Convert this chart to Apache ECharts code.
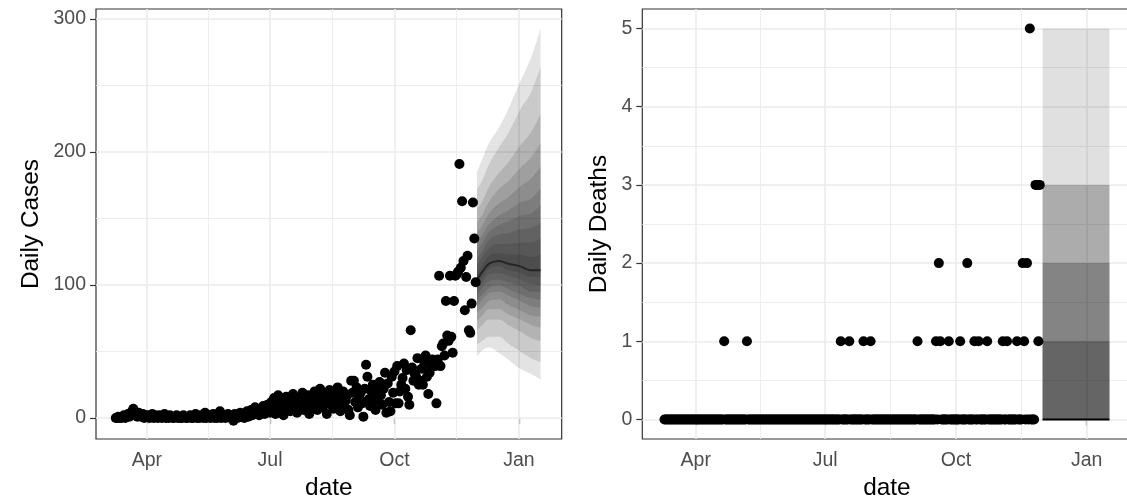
<!DOCTYPE html>
<html lang="en">
<head>
<meta charset="UTF-8">
<title>Daily cases and deaths</title>
<script src="https://cdn.jsdelivr.net/npm/echarts@6/dist/echarts.min.js"></script>
<style>html,body{margin:0;padding:0;background:#fff}#main{width:1127px;height:499px}</style>
</head>
<body>
<div id="main"></div>
<script>
// day numbers count from 2020-01-01 (= day 0)
const casesStartDay = 68; // Mar 9
const casesMar = [0,0,1,0,0,1,2,0,1,3,1,2,5,7,2,3,1,4,2,1,3,0,2];
const casesApr = [1,2,0,1,3,0,2,1,0,2,1,0,1,3,0,1,0,2,1,0,0,1,2,0,1,0,0,2,1,0];
const casesMay = [0,1,2,0,0,1,3,0,1,0,2,1,0,4,0,1,2,0,1,3,0,1,0,2,5,0,1,2,0,1,3];
const casesJun = [2,0,1,-2,3,1,0,2,4,1,3,0,2,5,1,3,6,2,4,8,3,5,2,7,4,9,3,6,10,5];
const casesJul = [4,12,8,15,3,10,17,6,11,9,2,14,16,7,12,5,13,18,9,11,4,15,8,14,19,6,10,13,17,3,12];
const casesAug = [9,15,20,11,6,14,22,17,8,12,18,3,13,21,10,16,7,19,14,23,11,5,15,20,9,13,17,6,2,28,19];
const casesSep = [28,12,23,8,15,19,11,1,22,40,31,14,9,20,25,18,6,13,21,27,17,10,22,34,4,26,12,5,31,19];
const casesOct = [35,11,39,11,20,25,30,41,22,36,16,10,66,38,28,33,31,45,25,28,37,25,42,47,31,18,34,38,44,40,39];
const casesNov = [11,44,107,39,54,56,47,88,62,58,107,61,49,88,107,108,110,191,113,163,118,81,106,122,66,64,86,162,135,102];

const deathsStartDay = 69; // Mar 10
const deathsMar = [0,0,0,0,0,0,0,0,0,0,0,0,0,0,0,0,0,0,0,0,0,0];
const deathsApr = [0,0,0,0,0,0,0,0,0,0,0,0,0,0,0,0,0,0,0,0,1,0,0,0,0,0,0,0,0,0];
const deathsMay = [0,0,0,0,0,0,1,0,0,0,0,0,0,0,0,0,0,0,0,0,0,0,0,0,0,0,0,0,0,0,0];
const deathsJun = [0,0,0,0,0,0,0,0,0,0,0,0,0,0,0,0,0,0,0,0,0,0,0,0,0,0,0,0,0,0];
const deathsJul = [0,0,0,0,0,0,0,0,0,0,0,1,0,0,0,0,0,1,0,0,0,0,0,0,0,0,0,1,0,0,0];
const deathsAug = [0,1,0,0,0,0,0,0,0,0,0,0,0,0,0,0,0,0,0,0,0,0,0,0,0,0,0,0,0,0,0];
const deathsSep = [0,0,0,1,0,0,0,0,0,0,0,0,0,0,0,0,1,0,2,1,0,0,0,0,0,1,0,0,0,0];
const deathsOct = [0,0,0,1,0,0,0,0,2,0,0,0,0,1,0,0,1,0,0,0,0,0,1,0,0,0,0,0,0,0,0];
const deathsNov = [0,0,1,0,0,1,0,0,0,0,0,0,1,0,0,0,2,1,0,2,0,5,0,0,0,3,3,1,3];

// forecast fan for cases (outer band first)
const fanDays = [335,339,344,351,358,367,375,382];
const fanMedian = [104,110,116,118,116,114,111,111];
const fanUpper = [
  [185,195,207,218,232,253,271,293],
  [172,179,191,203,214,232,245,264],
  [157,163,174,184,192,205,215,229],
  [147,153,163,172,178,188,196,207],
  [139,145,154,161,166,174,180,189],
  [132,138,146,152,156,162,165,173],
  [126,132,140,145,148,152,154,160],
  [120,126,134,138,139,142,143,147],
  [115,121,128,131,131,132,132,135],
  [109,115,122,124,123,123,121,123]
];
const fanLower = [
  [46,51,53,49,44,37,33,29],
  [55,58,61,61,56,50,45,42],
  [66,70,74,74,70,65,60,58],
  [73,77,82,82,78,74,70,68],
  [79,83,88,89,85,81,77,76],
  [84,89,94,95,92,88,84,83],
  [88,93,98,100,97,93,90,89],
  [92,98,103,104,102,99,95,95],
  [96,102,108,109,107,104,101,100],
  [100,106,112,114,111,109,106,106]
];

// forecast fan for deaths
const deathFanDays = [335,382];
const deathFanMedian = [0,0];
const deathFanUpper = [[5,5],[3,3],[3,3],[2,2],[2,2],[1,1],[1,1]];
const deathFanLower = [[0,0],[0,0],[0,0],[0,0],[0,0],[0,0],[0,0]];

const xTickDays = [91,182,274,366];
const xTickLabels = ['Apr','Jul','Oct','Jan'];
const xMinorDays = [136.5,228,320];
const casesTicks = [0,100,200,300];
const casesMinor = [50,150,250];
const deathsTicks = [0,1,2,3,4,5];
const deathsMinor = [0.5,1.5,2.5,3.5,4.5];

const X_MIN = 53.4, X_MAX = 397.6;
const DAY0 = Date.UTC(2020,0,1);
const toTime = d => DAY0 + d * 86400000;
const FONT = 'Liberation Sans, Arial, sans-serif';

const cases = [].concat(casesMar,casesApr,casesMay,casesJun,casesJul,casesAug,casesSep,casesOct,casesNov)
  .map((v,i) => [casesStartDay + i, v]);
const deaths = [].concat(deathsMar,deathsApr,deathsMay,deathsJun,deathsJul,deathsAug,deathsSep,deathsOct,deathsNov)
  .map((v,i) => [deathsStartDay + i, v]);

// x axes: 0,2 = value axes in day numbers (ticks, labels, grid, points)
//         1,3 = hidden time axes on the same range (stacked fan bands)
function gridLines(xi, yi, yMajor, yMinor) {
  const major = {color:'#ebebeb', width:1.6, type:'solid'};
  const minor = {color:'#ebebeb', width:0.9, type:'solid'};
  const items = [];
  xMinorDays.forEach(d => items.push({xAxis: d, lineStyle: minor}));
  yMinor.forEach(v => items.push({yAxis: v, lineStyle: minor}));
  xTickDays.forEach(d => items.push({xAxis: d, lineStyle: major}));
  yMajor.forEach(v => items.push({yAxis: v, lineStyle: major}));
  return {
    type:'line', xAxisIndex:xi, yAxisIndex:yi, data:[], z:1, silent:true,
    markLine:{z:1, silent:true, symbol:['none','none'], label:{show:false}, animation:false, data: items}
  };
}

function fan(xi, yi, days, upper, lower, color, smooth) {
  const out = [];
  upper.forEach((up, k) => {
    const lo = lower[k];
    const stack = 'fan' + xi + '_' + k;
    out.push({type:'line', xAxisIndex:xi, yAxisIndex:yi, stack, smooth, symbol:'none', silent:true, z:2,
      lineStyle:{opacity:0}, emphasis:{disabled:true},
      data: days.map((d,i) => [toTime(d), lo[i]])});
    out.push({type:'line', xAxisIndex:xi, yAxisIndex:yi, stack, smooth, symbol:'none', silent:true, z:2,
      lineStyle:{opacity:0}, areaStyle:{color, opacity:1}, emphasis:{disabled:true},
      data: days.map((d,i) => [toTime(d), up[i] - lo[i]])});
  });
  return out;
}

function dayAxis(g) {
  return {
    type:'value', gridIndex:g, min:X_MIN, max:X_MAX,
    axisLine:{show:false},
    axisTick:{customValues: xTickDays, length:6, lineStyle:{color:'#333', width:1.2}},
    axisLabel:{customValues: xTickDays, margin:12, color:'#4d4d4d', fontSize:19.5, fontFamily:FONT,
      formatter: v => xTickLabels[xTickDays.indexOf(v)]},
    splitLine:{show:false},
    name:'date', nameLocation:'middle', nameGap:37,
    nameTextStyle:{fontSize:24.4, color:'#000', fontFamily:FONT}
  };
}

function timeAxis(g) {
  return {type:'time', gridIndex:g, min:toTime(X_MIN), max:toTime(X_MAX), show:false};
}

function yAxis(g, min, max, ticks, name, gap) {
  return {
    type:'value', gridIndex:g, min, max,
    axisLine:{show:false},
    axisTick:{customValues: ticks, length:6, lineStyle:{color:'#333', width:1.2}},
    axisLabel:{customValues: ticks, margin:10, color:'#4d4d4d', fontSize:19.5, fontFamily:FONT},
    splitLine:{show:false},
    name, nameLocation:'middle', nameGap:gap,
    nameTextStyle:{fontSize:24.4, color:'#000', fontFamily:FONT}
  };
}

const gridBase = {top:9, bottom:60, show:true, borderColor:'#333', borderWidth:1.2,
  backgroundColor:'#fff', outerBoundsMode:'none', containLabel:false};

const chart = echarts.init(document.getElementById('main'));
chart.setOption({
  animation:false,
  backgroundColor:'#fff',
  grid:[
    Object.assign({left:96, right:565.3}, gridBase),
    Object.assign({left:642.3, right:-4.6}, gridBase)
  ],
  xAxis:[dayAxis(0), timeAxis(0), dayAxis(1), timeAxis(1)],
  yAxis:[
    yAxis(0, -15.8, 307.5, casesTicks, 'Daily Cases', 53),
    yAxis(1, -0.25, 5.25, deathsTicks, 'Daily Deaths', 31)
  ],
  series:[
    gridLines(0, 0, casesTicks, casesMinor),
    gridLines(2, 1, deathsTicks, deathsMinor),
    ...fan(1, 0, fanDays, fanUpper, fanLower, 'rgba(0,0,0,0.11)', 0.4),
    ...fan(3, 1, deathFanDays, deathFanUpper, deathFanLower, 'rgba(0,0,0,0.12)', false),
    {type:'line', xAxisIndex:1, yAxisIndex:0, smooth:0.4, symbol:'none', z:3, silent:true,
      lineStyle:{color:'#262626', width:2}, data: fanDays.map((d,i) => [toTime(d), fanMedian[i]])},
    {type:'line', xAxisIndex:3, yAxisIndex:1, symbol:'none', z:3, silent:true,
      lineStyle:{color:'#000', width:2}, data: deathFanDays.map((d,i) => [toTime(d), deathFanMedian[i]])},
    {type:'scatter', xAxisIndex:0, yAxisIndex:0, symbolSize:10, z:5, silent:true,
      itemStyle:{color:'#000', opacity:1}, data: cases},
    {type:'scatter', xAxisIndex:2, yAxisIndex:1, symbolSize:10, z:5, silent:true,
      itemStyle:{color:'#000', opacity:1}, data: deaths}
  ]
});
</script>
</body>
</html>
